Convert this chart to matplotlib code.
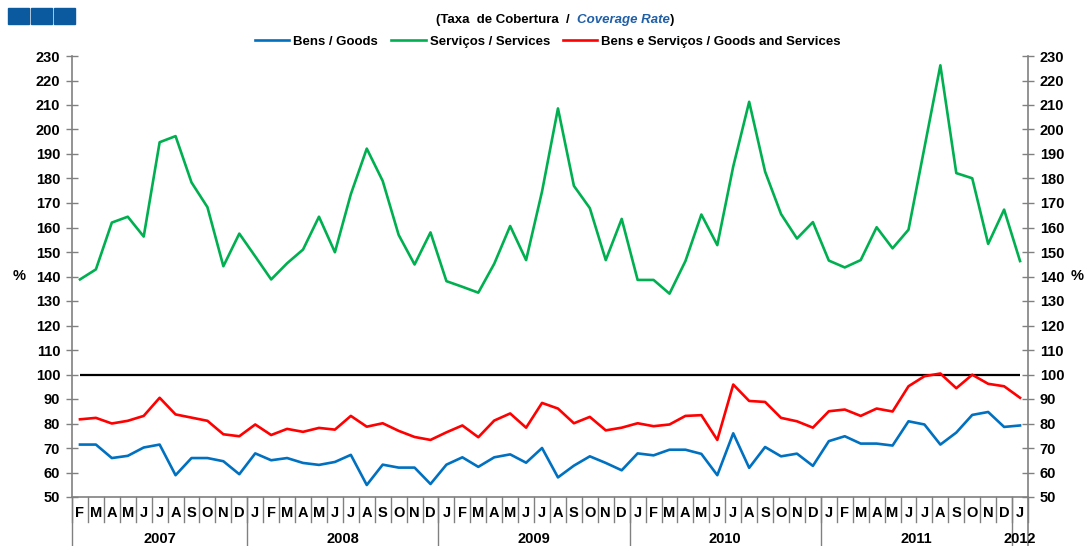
import matplotlib
matplotlib.use("Agg")
import matplotlib.pyplot as plt
from matplotlib.patches import Rectangle
import matplotlib.transforms as mtransforms
import numpy as np

plt.rcParams['font.family'] = ['Liberation Sans', 'DejaVu Sans']

# month letters, Feb 2007 .. Jan 2012
month_labels = list("FMAMJJASOND" + "JFMAMJJASOND" * 4 + "J")
years = ["2007", "2008", "2009", "2010", "2011", "2012"]
months_per_year = [11, 12, 12, 12, 12, 1]

bens = [71.4, 71.4, 65.9, 66.8, 70.2, 71.4, 58.9, 65.9, 65.9, 64.6, 59.3,
        67.8, 65.0, 65.9, 63.9, 63.1, 64.3, 67.2, 54.9, 63.2, 62.0, 62.0, 55.3,
        63.2, 66.2, 62.3, 66.2, 67.4, 64.0, 70.0, 58.0, 62.8, 66.6, 63.9, 60.9,
        67.8, 67.0, 69.3, 69.3, 67.6, 58.9, 76.0, 61.9, 70.4, 66.6, 67.7, 62.7,
        72.8, 74.8, 71.8, 71.8, 71.0, 80.9, 79.6, 71.4, 76.3, 83.5, 84.7, 78.6,
        79.2]
servicos = [138.8, 142.9, 162.0, 164.4, 156.3, 194.8, 197.3, 178.4, 168.3, 144.2, 157.5,
            148.2, 138.8, 145.4, 151.0, 164.4, 149.9, 173.6, 192.2, 179.0, 157.0, 144.9, 158.0,
            138.1, 135.8, 133.4, 145.2, 160.6, 146.7, 174.7, 208.6, 177.0, 167.9, 146.7, 163.5,
            138.6, 138.6, 133.0, 146.3, 165.3, 152.8, 184.9, 211.3, 182.8, 165.5, 155.5, 162.2,
            146.5, 143.7, 146.7, 160.1, 151.5, 159.1, 192.6, 226.2, 182.2, 180.1, 153.3, 167.3,
            146.3]
bens_servicos = [81.7, 82.3, 80.0, 81.1, 83.1, 90.5, 83.7, 82.4, 81.1, 75.6, 74.8,
                 79.6, 75.3, 77.8, 76.6, 78.2, 77.5, 83.1, 78.7, 80.1, 77.0, 74.5, 73.3,
                 76.4, 79.2, 74.4, 81.2, 84.1, 78.3, 88.4, 86.1, 80.1, 82.7, 77.2, 78.3,
                 80.1, 78.9, 79.6, 83.1, 83.4, 73.3, 95.9, 89.2, 88.8, 82.3, 80.9, 78.3,
                 85.0, 85.7, 83.1, 86.1, 84.9, 95.2, 99.3, 100.4, 94.4, 99.9, 96.2, 95.2,
                 90.5]
ref_level = 100

n = len(month_labels)
x = np.arange(n)

fig = plt.figure(figsize=(10.84, 5.46), dpi=100)
ax = fig.add_axes([72 / 1084, 1 - 497 / 546, 956 / 1084, 441 / 546])

ax.plot(x, bens, color="#0070C0", lw=1.9, label="Bens / Goods")
ax.plot(x, servicos, color="#00B050", lw=1.9, label="Serviços / Services")
ax.plot(x, bens_servicos, color="#FF0000", lw=1.9, label="Bens e Serviços / Goods and Services")
ax.hlines(ref_level, x[0], x[-1], color="black", lw=1.6, zorder=1)

ax.set_xlim(-0.5, n - 0.5)
ax.set_ylim(50, 230)
ax.set_yticks(np.arange(50, 231, 10))
ax.set_xticks([])

axis_gray = "#808080"
for s in ["top"]:
    ax.spines[s].set_visible(False)
for s in ["left", "right", "bottom"]:
    ax.spines[s].set_color(axis_gray)
    ax.spines[s].set_linewidth(1.2)

ax.tick_params(axis="y", which="both", direction="inout", length=9, width=1,
               color=axis_gray, labelsize=10.5, left=True, right=True,
               labelleft=True, labelright=True, pad=4)
for lab in ax.get_yticklabels():
    lab.set_fontweight("bold")

# % labels on both sides
ax.text(-0.055, (140 - 50) / 180, "%", transform=ax.transAxes, ha="center",
        va="center", fontsize=10.5, fontweight="bold")
ax.text(1.051, (140 - 50) / 180, "%", transform=ax.transAxes, ha="center",
        va="center", fontsize=10.5, fontweight="bold")

# category axis: month letters and year groups
trans = mtransforms.blended_transform_factory(ax.transData, ax.transAxes)
bottom = -49 / 441
for i, m in enumerate(month_labels):
    ax.text(i, -16 / 441, m, transform=trans, ha="center", va="center",
            fontsize=10.5, fontweight="bold")
for i in range(n + 1):
    ax.plot([i - 0.5, i - 0.5], [0, -25 / 441], transform=trans, color=axis_gray,
            lw=1, clip_on=False)

start = 0
for yr, cnt in zip(years, months_per_year):
    ax.text(start + (cnt - 1) / 2, -42 / 441, yr, transform=trans, ha="center",
            va="center", fontsize=10.5, fontweight="bold")
    ax.plot([start - 0.5, start - 0.5], [0, bottom], transform=trans,
            color=axis_gray, lw=1, clip_on=False)
    start += cnt
ax.plot([n - 0.5, n - 0.5], [0, bottom], transform=trans, color=axis_gray,
        lw=1.2, clip_on=False)

# title
t1 = fig.text(436 / 1084, 1 - 20 / 546, "(Taxa  de Cobertura  /  ", fontsize=9.5,
              fontweight="bold", ha="left", va="center")
t2 = ax.annotate("Coverage Rate", xy=(1, 0), xycoords=t1, va="bottom", ha="left",
                 fontsize=9.5, fontweight="bold", fontstyle="italic", color="#1F5FA8",
                 annotation_clip=False)
ax.annotate(")", xy=(1, 0), xycoords=t2, va="bottom", ha="left", fontsize=9.5,
            fontweight="bold", annotation_clip=False)

fig.legend(loc="center", bbox_to_anchor=(548 / 1084, 1 - 42 / 546), ncol=3,
           frameon=False, prop={"weight": "bold", "size": 9.5}, handlelength=2.6,
           columnspacing=1.0, handletextpad=0.3)

# logo squares top-left
for x0 in [8, 31, 54]:
    fig.patches.append(Rectangle((x0 / 1084, 1 - 24 / 546), 21 / 1084, 16 / 546,
                                 transform=fig.transFigure, color="#0B5AA0"))

fig.savefig("out.png", dpi=100)
